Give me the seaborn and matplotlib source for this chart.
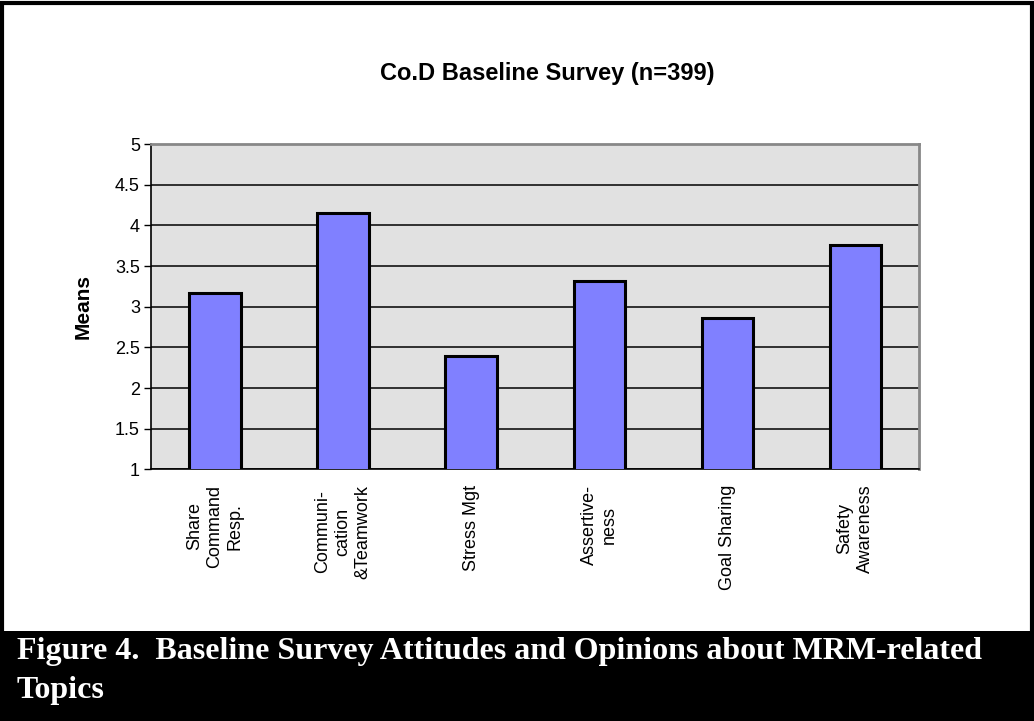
import pandas as pd
import matplotlib
matplotlib.use('Agg')
import matplotlib.pyplot as plt
import seaborn as sns
from matplotlib.patches import Rectangle

# データ
topics = ['Share\nCommand\nResp.', 'Communi-\ncation\n&Teamwork', 'Stress Mgt',
          'Assertive-\nness', 'Goal Sharing', 'Safety\nAwareness']
means = [3.17, 4.15, 2.40, 3.32, 2.86, 3.76]
y_ticks = [1, 1.5, 2, 2.5, 3, 3.5, 4, 4.5, 5]
y_tick_labels = ['1', '1.5', '2', '2.5', '3', '3.5', '4', '4.5', '5']

df = pd.DataFrame({'topic': topics, 'mean': means})

sns.set_style('white')
plt.rcParams['font.family'] = ['Liberation Sans', 'DejaVu Sans']
plt.rcParams['text.color'] = 'black'
plt.rcParams['axes.labelcolor'] = 'black'
plt.rcParams['xtick.color'] = 'black'
plt.rcParams['ytick.color'] = 'black'

fig = plt.figure(figsize=(10.34, 7.21), dpi=100)
ax = fig.add_axes([0.146, 0.349, 0.743, 0.451])
ax.set_facecolor('#e1e1e1')

sns.barplot(data=df, x='topic', y='mean', order=topics, color='#8080ff',
            saturation=1, width=0.4, edgecolor='black', linewidth=2.2, ax=ax, zorder=3)

ax.set_ylim(1, 5)
ax.set_xlim(-0.5, len(topics) - 0.5)
ax.set_yticks(y_ticks)
ax.set_yticklabels(y_tick_labels, fontsize=13)
ax.yaxis.grid(True, color='black', linewidth=1.1, zorder=0)
ax.set_axisbelow(True)

# x軸：ラベルは棒の中央、目盛りは区切り位置
ax.set_xticks(range(len(topics)))
ax.set_xticklabels(topics, rotation=90, fontsize=13, ha='center', va='top',
                   multialignment='center', linespacing=1.25)
ax.tick_params(axis='x', which='major', length=0, pad=11)
ax.set_xticks([i - 0.5 for i in range(len(topics) + 1)], minor=True)
ax.tick_params(axis='x', which='minor', length=9, direction='inout', width=1, color='black')
ax.tick_params(axis='y', which='major', length=5, direction='out', width=1, color='black', left=True, pad=3)

ax.set_xlabel('')
ax.set_ylabel('Means', fontsize=15, fontweight='bold', labelpad=16)

for side in ['left', 'bottom']:
    ax.spines[side].set_color('black')
    ax.spines[side].set_linewidth(1.2)
for side in ['top', 'right']:
    ax.spines[side].set_color('#888888')
    ax.spines[side].set_linewidth(2)
    ax.spines[side].set_visible(True)

fig.text(0.529, 0.898, 'Co.D Baseline Survey (n=399)', ha='center', va='center',
         fontsize=17, fontweight='bold')

# キャプション帯
fig.patches.append(Rectangle((0, 0), 1, 0.125, transform=fig.transFigure,
                             facecolor='black', edgecolor='none', zorder=0))
fig.patches.append(Rectangle((0.002, 0.002), 0.996, 0.994, transform=fig.transFigure,
                             facecolor='none', edgecolor='black', linewidth=3, zorder=5))
fig.text(0.016, 0.096, 'Figure 4.  Baseline Survey Attitudes and Opinions about MRM-related',
         ha='left', va='center', fontsize=23, fontweight='bold', color='white',
         family=['Liberation Serif', 'DejaVu Serif'])
fig.text(0.016, 0.042, 'Topics', ha='left', va='center', fontsize=23, fontweight='bold',
         color='white', family=['Liberation Serif', 'DejaVu Serif'])

plt.savefig('out.png', dpi=100)
